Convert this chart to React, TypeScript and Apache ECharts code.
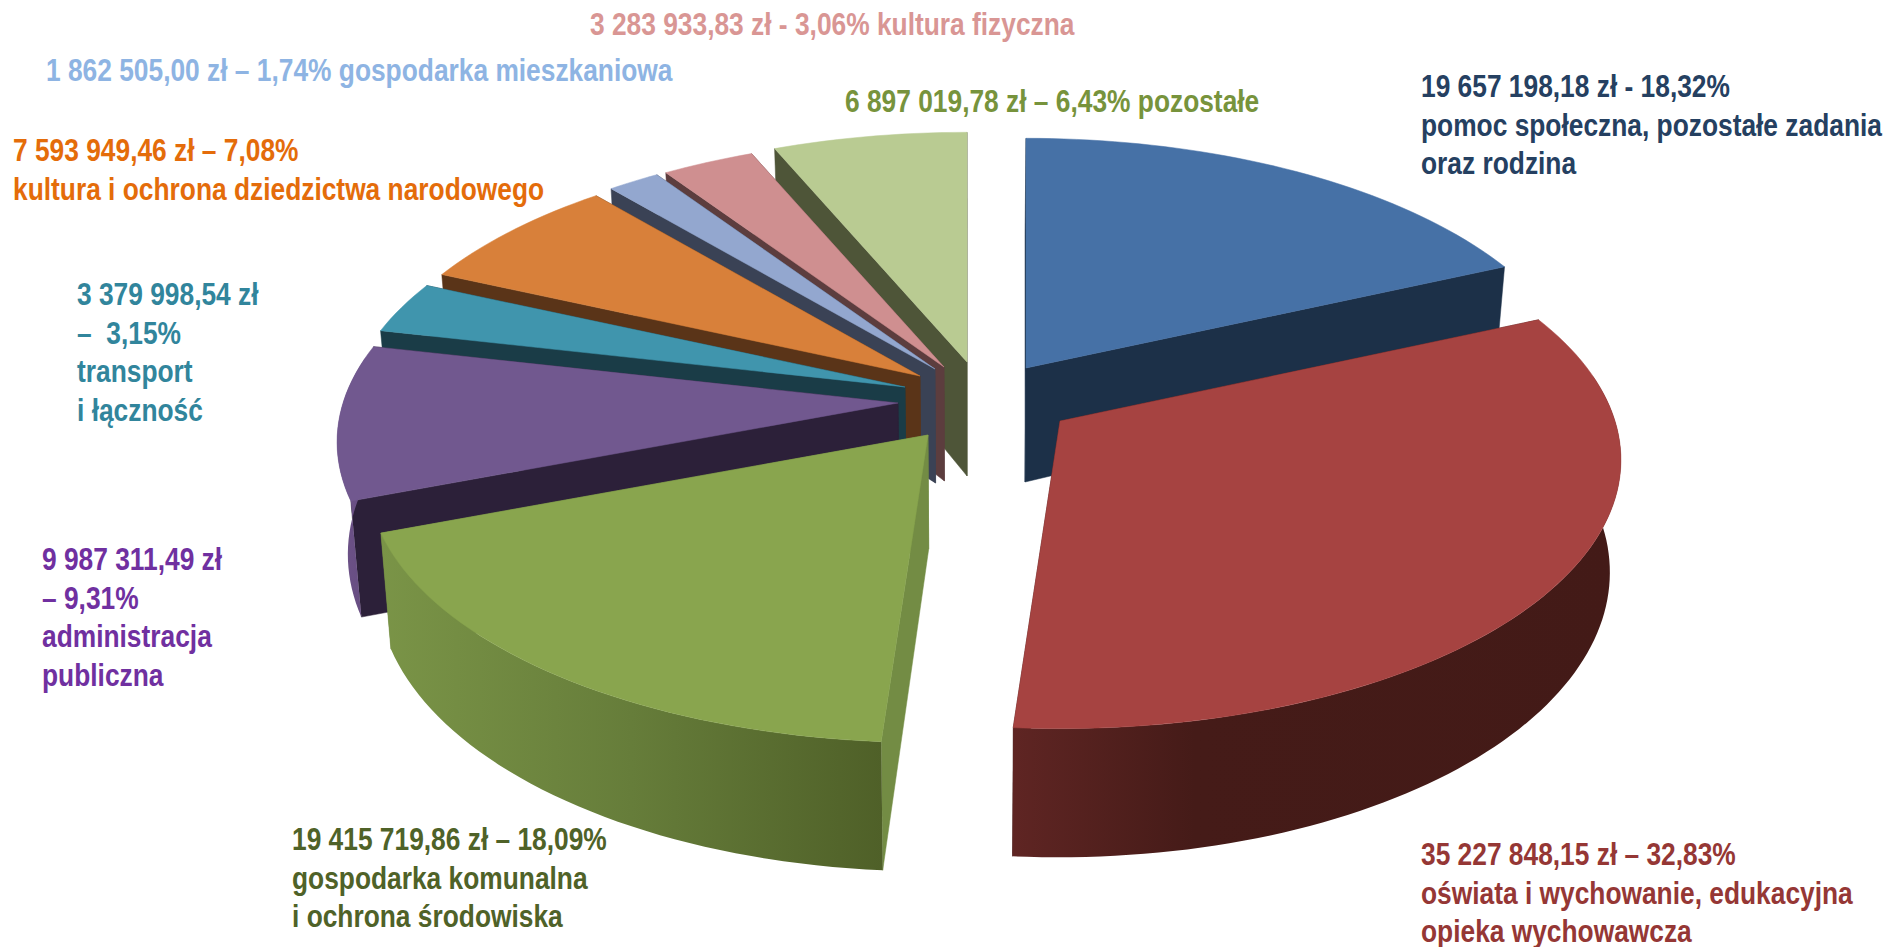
import React, { useEffect, useRef } from "react";
import * as echarts from "echarts";

// Data, in the clockwise order of the pie, starting at 12 o'clock
const categories = [
  "pomoc społeczna, pozostałe zadania oraz rodzina",
  "oświata i wychowanie, edukacyjna opieka wychowawcza",
  "gospodarka komunalna i ochrona środowiska",
  "administracja publiczna",
  "transport i łączność",
  "kultura i ochrona dziedzictwa narodowego",
  "gospodarka mieszkaniowa",
  "kultura fizyczna",
  "pozostałe",
];
const amounts = [
  19657198.18, 35227848.15, 19415719.86, 9987311.49, 3379998.54, 7593949.46,
  1862505.0, 3283933.83, 6897019.78,
];
const labelTexts = [
  "19 657 198,18 zł - 18,32%\npomoc społeczna, pozostałe zadania\noraz rodzina",
  "35 227 848,15 zł – 32,83%\noświata i wychowanie, edukacyjna\nopieka wychowawcza",
  "19 415 719,86 zł – 18,09%\ngospodarka komunalna\ni ochrona środowiska",
  "9 987 311,49 zł\n– 9,31%\nadministracja\npubliczna",
  "3 379 998,54 zł\n–  3,15%\ntransport\ni łączność",
  "7 593 949,46 zł – 7,08%\nkultura i ochrona dziedzictwa narodowego",
  "1 862 505,00 zł – 1,74% gospodarka mieszkaniowa",
  "3 283 933,83 zł - 3,06% kultura fizyczna",
  "6 897 019,78 zł – 6,43% pozostałe",
];

// Styles and layout (separate from the data)
const topColors = ["#4671a6", "#a64341", "#89a54e", "#71588f", "#4095ad", "#d8803a", "#93a7cf", "#cf8f90", "#b9cb92"];
const edgeColors = ["#1c3048", "#431b18", "#738c44", "#2c2039", "#1a3c47", "#5a3418", "#3a4255", "#5c3d3e", "#4e5538"];
const labelColors = ["#254061", "#953735", "#4f6228", "#7030a0", "#31859c", "#e46c0a", "#8eb4e3", "#d99694", "#77933c"];
const wallStops: [number, string][][] = [
  [[0, "#1c3048"], [1, "#1c3048"]],
  [[0, "#5f2523"], [0.3, "#451b18"], [1, "#431a17"]],
  [[0, "#7a9447"], [0.5, "#667d3a"], [1, "#4f6028"]],
  [[0, "#6e5389"], [1, "#644b7e"]],
  [[0, "#1a3c47"], [1, "#1a3c47"]],
  [[0, "#5a3418"], [1, "#5a3418"]],
  [[0, "#3a4255"], [1, "#3a4255"]],
  [[0, "#5c3d3e"], [1, "#5c3d3e"]],
  [[0, "#4e5538"], [1, "#4e5538"]],
];
const sliceApex = [
  [1026, 368], [1060, 421], [928, 435], [898, 403], [905, 387], [920, 376], [935, 369], [944, 367], [967, 362],
];
const paintRank = [5, 8, 7, 6, 4, 3, 2, 1, 0];
const labelBoxes = [
  [1421, 67], [1421, 835], [292, 820], [42, 540], [77, 275], [13, 131], [46, 51], [590, 5], [845, 82],
];

const RX = 555;
const RY = 263;
const PERSPECTIVE = 0.145;
const DEPTH = 110;
const APEX_DEPTH = 114;
const VANISH_X = 970;
const DEPTH_SCALE = 0.983;
const FRONT_FROM = (80 * Math.PI) / 180;
const FRONT_TO = (280 * Math.PI) / 180;

const total = amounts.reduce((a, b) => a + b, 0);
const startFractions = amounts.map((_, i) => amounts.slice(0, i).reduce((a, b) => a + b, 0) / total);

type Pt = [number, number];
const rimPoint = (apex: number[], angle: number): Pt => {
  const w = 1 + PERSPECTIVE * Math.cos(angle);
  return [apex[0] + (RX * Math.sin(angle)) / w, apex[1] - (RY * Math.cos(angle)) / w];
};
const lower = (p: Pt, angle: number | null): Pt => {
  const drop = angle === null ? APEX_DEPTH : DEPTH / (1 + PERSPECTIVE * Math.cos(angle));
  return [VANISH_X + (p[0] - VANISH_X) * DEPTH_SCALE, p[1] + drop];
};
const sweep = (from: number, to: number, count: number) => {
  const out: number[] = [];
  for (let s = 0; s <= count; s++) out.push(from + ((to - from) * s) / count);
  return out;
};

function renderSlice(params: any, api: any) {
  const i = params.dataIndex;
  const share = api.value(0) / total;
  const a0 = startFractions[i] * 2 * Math.PI;
  const a1 = a0 + share * 2 * Math.PI;
  const apex = sliceApex[i];
  const steps = Math.max(8, Math.round(share * 240));
  const rim = sweep(a0, a1, steps).map((a) => rimPoint(apex, a));
  const apexPt: Pt = [apex[0], apex[1]];
  const apexLow = lower(apexPt, null);
  const base = paintRank[i] * 10;
  const edge = (angle: number, z: number) => {
    const top = rimPoint(apex, angle);
    return {
      type: "polygon",
      z2: base + z,
      shape: { points: [apexPt, top, lower(top, angle), apexLow] },
      style: { fill: edgeColors[i], stroke: edgeColors[i], lineWidth: 0.5 },
    };
  };
  const children: any[] = [edge(a1, 0), edge(a0, 1)];
  // The rim wall: only the part that faces the viewer
  const w0 = Math.max(a0, FRONT_FROM);
  const w1 = Math.min(a1, FRONT_TO);
  if (w1 > w0) {
    const angles = sweep(w0, w1, steps);
    const wallTop = angles.map((a) => rimPoint(apex, a));
    const wallLow = wallTop.map((p, k) => lower(p, angles[k]));
    children.push({
      type: "polygon",
      z2: base + 2,
      shape: { points: [...wallTop, ...wallLow.reverse()] },
      style: {
        fill: new echarts.graphic.LinearGradient(
          0, 0, 1, 0,
          wallStops[i].map(([offset, color]) => ({ offset, color }))
        ),
      },
    });
  }
  children.push({
    type: "polygon",
    z2: base + 3,
    shape: { points: [apexPt, ...rim] },
    style: { fill: topColors[i], stroke: topColors[i], lineWidth: 0.5 },
  });
  return { type: "group", children };
}

export default function App() {
  const ref = useRef<HTMLDivElement>(null);
  useEffect(() => {
    const chart = echarts.init(ref.current!, undefined, { renderer: "svg" });
    chart.setOption({
      animation: false,
      backgroundColor: "#ffffff",
      series: [
        {
          type: "custom",
          name: "Wydatki",
          coordinateSystem: "none",
          clip: false,
          silent: true,
          renderItem: renderSlice,
          data: amounts.map((v, i) => ({ name: categories[i], value: [v] })),
        },
      ],
      graphic: labelTexts.map((text, i) => ({
        type: "text",
        x: labelBoxes[i][0],
        y: labelBoxes[i][1],
        scaleX: 0.85,
        z: 10,
        style: {
          text,
          fill: labelColors[i],
          font: 'bold 31px "Liberation Sans", sans-serif',
          lineHeight: 38.5,
          align: "left",
          verticalAlign: "top",
        },
      })),
    });
    return () => chart.dispose();
  }, []);
  return <div ref={ref} style={{ position: "absolute", left: 0, top: 0, width: 1887, height: 947 }} />;
}
